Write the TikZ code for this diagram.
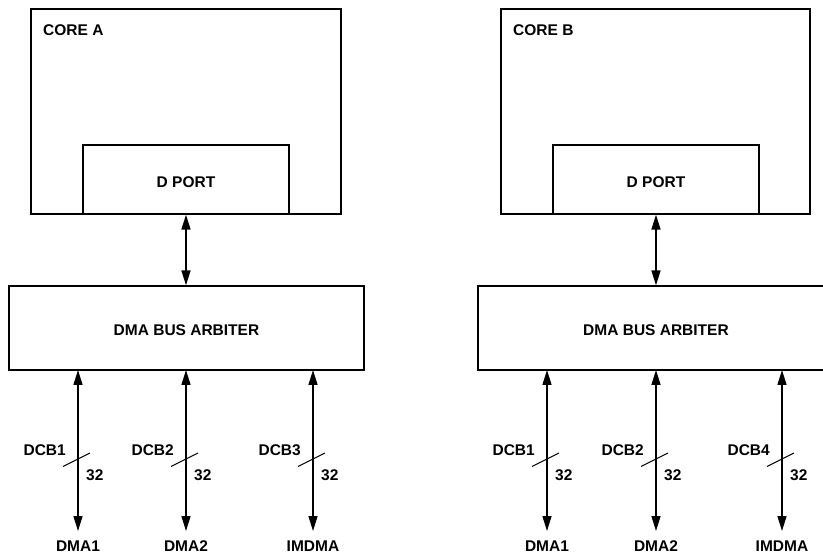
\documentclass[tikz,border=0pt]{standalone}
\usepackage{fontspec}
\setmainfont{Liberation Sans}
\usetikzlibrary{arrows.meta}
\begin{document}
\begin{tikzpicture}[x=1pt,y=-1pt,
  box/.style={draw,line width=1.3pt,inner sep=0pt},
  lbl/.style={font=\bfseries\fontsize{15.5}{17}\selectfont,inner sep=0pt,text height=11pt,text depth=0pt},
  bus/.style={line width=1.5pt,{Triangle[length=15pt,width=9pt]}-{Triangle[length=15pt,width=9pt]}},
  tick/.style={line width=1pt}]
\useasboundingbox (0,0) rectangle (823,556);
% ---------- left ----------
\node[box,minimum width=310pt,minimum height=205pt] (coreA) at (186,111.5) {};
\node[lbl,anchor=west] (coreAt) at (43,30) {CORE A};
\node[box,fill=white,minimum width=206pt,minimum height=69pt] (dportA) at (186,179.5) {};
\node[lbl] (dportAt) at (186,182) {D PORT};
\node[box,minimum width=355pt,minimum height=84pt] (arbA) at (186.5,328) {};
\node[lbl] (arbAt) at (186.5,330) {DMA BUS ARBITER};
\draw[bus] (dportA.south) -- (dportA.south |- arbA.north);
% buses
\foreach \x/\n/\d [count=\i] in {78/DMA1/DCB1,186/DMA2/DCB2,313/IMDMA/DCB3}{
  \coordinate (aTop\i) at (\x,370);
  \coordinate (aBot\i) at (\x,531);
  \draw[bus] (aTop\i) -- (aBot\i);
  \node[lbl] (aDst\i) at (\x,546) {\n};
  \node[lbl,anchor=east] (aDcb\i) at (\x-12,450) {\d};
  \node[lbl,anchor=west] (aW\i) at (\x+8,475) {32};
  \coordinate (aS1\i) at (\x-15,466.5);
  \coordinate (aS2\i) at (\x+12,453);
  \draw[tick] (aS1\i) -- (aS2\i);
}
% ---------- right ----------
\node[box,minimum width=309pt,minimum height=205pt] (coreB) at (655.5,111.5) {};
\node[lbl,anchor=west] (coreBt) at (513,30) {CORE B};
\node[box,fill=white,minimum width=206pt,minimum height=69pt] (dportB) at (656,179.5) {};
\node[lbl] (dportBt) at (656,182) {D PORT};
\node[box,minimum width=355pt,minimum height=84pt] (arbB) at (655.5,328) {};
\node[lbl] (arbBt) at (656,330) {DMA BUS ARBITER};
\draw[bus] (dportB.south) -- (dportB.south |- arbB.north);
\foreach \x/\n/\d [count=\i] in {547/DMA1/DCB1,656/DMA2/DCB2,782/IMDMA/DCB4}{
  \coordinate (bTop\i) at (\x,370);
  \coordinate (bBot\i) at (\x,531);
  \draw[bus] (bTop\i) -- (bBot\i);
  \node[lbl] (bDst\i) at (\x,546) {\n};
  \node[lbl,anchor=east] (bDcb\i) at (\x-12,450) {\d};
  \node[lbl,anchor=west] (bW\i) at (\x+8,475) {32};
  \coordinate (bS1\i) at (\x-15,466.5);
  \coordinate (bS2\i) at (\x+12,453);
  \draw[tick] (bS1\i) -- (bS2\i);
}
\end{tikzpicture}
\end{document}
